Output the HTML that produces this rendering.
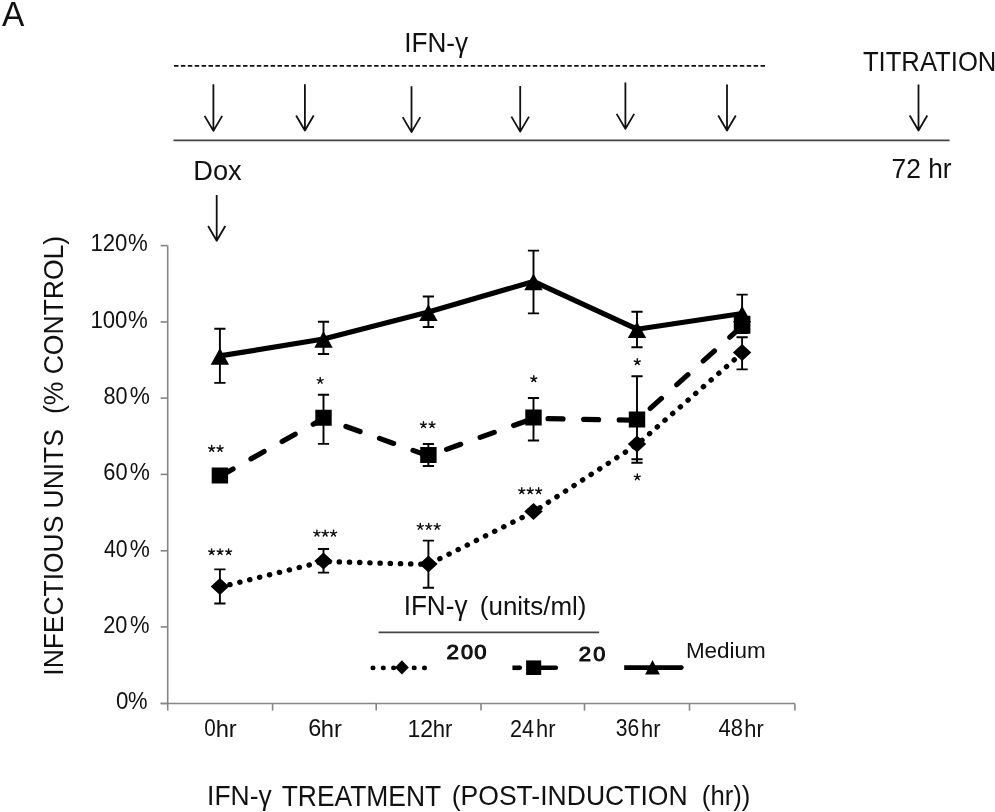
<!DOCTYPE html>
<html><head><meta charset="utf-8"><style>html,body{margin:0;padding:0;background:#fff;overflow:hidden}svg{display:block}text{font-family:"Liberation Sans",sans-serif;white-space:pre}</style></head>
<body>
<svg width="995" height="812" viewBox="0 0 995 812">
<rect width="995" height="812" fill="#fff"/>
<g stroke="#858585" stroke-width="1.6" fill="none">
<path d="M167.7,245.5 V710.6"/>
<path d="M160.6,245.6 H167.7"/>
<path d="M160.6,322.0 H167.7"/>
<path d="M160.6,398.1 H167.7"/>
<path d="M160.6,474.4 H167.7"/>
<path d="M160.6,550.8 H167.7"/>
<path d="M160.6,626.9 H167.7"/>
<path d="M160.6,703.5 H167.7"/>
<path d="M160.6,703.5 H795.0"/>
<path d="M272.6,703.5 V710.6"/>
<path d="M376.2,703.5 V710.6"/>
<path d="M481.0,703.5 V710.6"/>
<path d="M584.5,703.5 V710.6"/>
<path d="M689.5,703.5 V710.6"/>
<path d="M794.9,703.5 V710.6"/>
</g>
<path d="M219.9,328.7 V382.9 M214.3,328.7 H225.5 M214.3,382.9 H225.5 M323.5,321.8 V354.0 M317.9,321.8 H329.1 M317.9,354.0 H329.1 M428.4,296.5 V327.0 M422.8,296.5 H434.0 M422.8,327.0 H434.0 M533.5,250.6 V313.4 M527.9,250.6 H539.1 M527.9,313.4 H539.1 M637.0,311.8 V347.3 M631.4,311.8 H642.6 M631.4,347.3 H642.6 M742.1,294.6 V333.0 M736.5,294.6 H747.7 M736.5,333.0 H747.7 M323.5,394.8 V443.9 M317.9,394.8 H329.1 M317.9,443.9 H329.1 M428.4,444.0 V466.0 M422.8,444.0 H434.0 M422.8,466.0 H434.0 M533.5,398.0 V440.5 M527.9,398.0 H539.1 M527.9,440.5 H539.1 M637.0,376.3 V462.7 M631.4,376.3 H642.6 M631.4,462.7 H642.6 M219.9,569.4 V603.5 M214.3,569.4 H225.5 M214.3,603.5 H225.5 M323.5,549.0 V572.6 M317.9,549.0 H329.1 M317.9,572.6 H329.1 M428.4,540.6 V587.7 M422.8,540.6 H434.0 M422.8,587.7 H434.0 M637.0,426.0 V459.3 M631.4,426.0 H642.6 M631.4,459.3 H642.6 M742.1,337.2 V369.4 M736.5,337.2 H747.7 M736.5,369.4 H747.7" stroke="#000" stroke-width="1.9" fill="none"/>
<polyline points="219.9,587.1 323.5,561.5 428.4,564.4 533.5,511.9 637.0,444.6 742.1,353.0" fill="none" stroke="#000" stroke-width="5.3" stroke-linecap="round" stroke-linejoin="round" stroke-dasharray="0.3 9.9"/>
<polyline points="219.9,476.2 323.5,418.5 428.4,455.8 533.5,418.4 637.0,420.3 742.1,326.2" fill="none" stroke="#000" stroke-width="5.2" stroke-linecap="round" stroke-linejoin="round" stroke-dasharray="15.0 20.6"/>
<polyline points="219.9,355.9 323.5,339.0 428.4,312.1 533.5,281.4 637.0,329.2 742.1,313.5" fill="none" stroke="#000" stroke-width="5.2" stroke-linejoin="round"/>
<path d="M219.9,578.1 L229.1,586.6 L219.9,595.1 L210.7,586.6Z M323.5,552.5 L332.7,561.0 L323.5,569.5 L314.3,561.0Z M428.4,555.4 L437.6,563.9 L428.4,572.4 L419.2,563.9Z M533.5,502.9 L542.7,511.4 L533.5,519.9 L524.3,511.4Z M637.0,435.6 L646.2,444.1 L637.0,452.6 L627.8,444.1Z M742.1,344.0 L751.3,352.5 L742.1,361.0 L732.9,352.5Z M211.7,467.4 h16.4 v16.0 h-16.4Z M315.3,409.7 h16.4 v16.0 h-16.4Z M420.2,447.0 h16.4 v16.0 h-16.4Z M525.3,409.6 h16.4 v16.0 h-16.4Z M628.8,411.5 h16.4 v16.0 h-16.4Z M733.8,315.8 h16.6 v18.0 h-16.6Z M219.9,348.1 L229.1,364.7 L210.7,364.7Z M323.5,331.2 L332.7,347.8 L314.3,347.8Z M428.4,304.3 L437.6,320.9 L419.2,320.9Z M533.5,273.6 L542.7,290.2 L524.3,290.2Z M637.0,321.4 L646.2,338.0 L627.8,338.0Z M742.1,305.7 L751.3,322.3 L732.9,322.3Z" fill="#000"/>
<path d="M211.65,448.70 L211.65,445.53 M211.65,448.70 L214.67,447.72 M211.65,448.70 L213.52,451.28 M211.65,448.70 L209.78,451.28 M211.65,448.70 L208.62,447.72 M220.05,448.70 L220.05,445.53 M220.05,448.70 L223.08,447.72 M220.05,448.70 L221.92,451.28 M220.05,448.70 L218.18,451.28 M220.05,448.70 L217.03,447.72 M211.59,551.94 L211.59,548.93 M211.59,551.94 L214.46,551.01 M211.59,551.94 L213.36,554.38 M211.59,551.94 L209.82,554.38 M211.59,551.94 L208.72,551.01 M220.10,551.94 L220.10,548.93 M220.10,551.94 L222.97,551.01 M220.10,551.94 L221.87,554.38 M220.10,551.94 L218.33,554.38 M220.10,551.94 L217.23,551.01 M228.61,551.94 L228.61,548.93 M228.61,551.94 L231.48,551.01 M228.61,551.94 L230.38,554.38 M228.61,551.94 L226.84,554.38 M228.61,551.94 L225.74,551.01 M320.20,380.65 L320.20,377.53 M320.20,380.65 L323.17,379.68 M320.20,380.65 L322.03,383.18 M320.20,380.65 L318.36,383.18 M320.20,380.65 L317.22,379.68 M316.90,533.36 L316.90,530.12 M316.90,533.36 L319.98,532.36 M316.90,533.36 L318.80,535.98 M316.90,533.36 L315.00,535.98 M316.90,533.36 L313.82,532.36 M325.20,533.36 L325.20,530.12 M325.20,533.36 L328.28,532.36 M325.20,533.36 L327.10,535.98 M325.20,533.36 L323.30,535.98 M325.20,533.36 L322.12,532.36 M333.50,533.36 L333.50,530.12 M333.50,533.36 L336.58,532.36 M333.50,533.36 L335.40,535.98 M333.50,533.36 L331.60,535.98 M333.50,533.36 L330.42,532.36 M423.44,424.89 L423.44,421.83 M423.44,424.89 L426.36,423.94 M423.44,424.89 L425.25,427.38 M423.44,424.89 L421.64,427.38 M423.44,424.89 L420.52,423.94 M432.06,424.89 L432.06,421.83 M432.06,424.89 L434.98,423.94 M432.06,424.89 L433.86,427.38 M432.06,424.89 L430.25,427.38 M432.06,424.89 L429.14,423.94 M420.25,526.60 L420.25,523.43 M420.25,526.60 L423.27,525.62 M420.25,526.60 L422.12,529.18 M420.25,526.60 L418.38,529.18 M420.25,526.60 L417.22,525.62 M428.70,526.60 L428.70,523.43 M428.70,526.60 L431.72,525.62 M428.70,526.60 L430.57,529.18 M428.70,526.60 L426.83,529.18 M428.70,526.60 L425.68,525.62 M437.15,526.60 L437.15,523.43 M437.15,526.60 L440.18,525.62 M437.15,526.60 L439.02,529.18 M437.15,526.60 L435.28,529.18 M437.15,526.60 L434.13,525.62 M533.80,378.95 L533.80,375.83 M533.80,378.95 L536.77,377.98 M533.80,378.95 L535.63,381.48 M533.80,378.95 L531.96,381.48 M533.80,378.95 L530.82,377.98 M521.75,491.00 L521.75,487.83 M521.75,491.00 L524.77,490.02 M521.75,491.00 L523.62,493.58 M521.75,491.00 L519.88,493.58 M521.75,491.00 L518.72,490.02 M530.20,491.00 L530.20,487.83 M530.20,491.00 L533.22,490.02 M530.20,491.00 L532.07,493.58 M530.20,491.00 L528.33,493.58 M530.20,491.00 L527.18,490.02 M538.65,491.00 L538.65,487.83 M538.65,491.00 L541.68,490.02 M538.65,491.00 L540.52,493.58 M538.65,491.00 L536.78,493.58 M538.65,491.00 L535.63,490.02 M637.30,361.95 L637.30,358.83 M637.30,361.95 L640.27,360.98 M637.30,361.95 L639.13,364.48 M637.30,361.95 L635.46,364.48 M637.30,361.95 L634.32,360.98 M637.30,477.15 L637.30,474.03 M637.30,477.15 L640.27,476.18 M637.30,477.15 L639.13,479.68 M637.30,477.15 L635.46,479.68 M637.30,477.15 L634.32,476.18" stroke="#111" stroke-width="1.45" stroke-linecap="round" fill="none"/>
<path d="M378.6,632.3 H599.1" stroke="#444" stroke-width="1.7"/>
<path d="M372.9,667.9 H425" stroke="#000" stroke-width="4.9" stroke-linecap="round" stroke-dasharray="0.2 10.1"/>
<path d="M401.9,660.2 L408.8,667.4 L401.9,674.6 L395.0,667.4Z" fill="#000"/>
<path d="M512.4,667.8 H519.8" stroke="#000" stroke-width="4.6"/><circle cx="519.8" cy="667.8" r="2.3" fill="#000"/>
<path d="M533,667.8 H555.8" stroke="#000" stroke-width="4.6" stroke-linecap="round"/>
<path d="M526.1,660.4 h15.1 v14.6 h-15.1Z" fill="#000"/>
<path d="M624.2,667.6 H681.4" stroke="#000" stroke-width="4.6"/><circle cx="681.4" cy="667.6" r="2.3" fill="#000"/>
<path d="M652.5,660.0 L659.9,674.5 L645.1,674.5Z" fill="#000"/>
<path d="M174,65.9 H766.7" stroke="#111" stroke-width="1.8" stroke-dasharray="4.5 2.4"/>
<path d="M173.5,140.4 H949.6" stroke="#444" stroke-width="1.7"/>
<path d="M213.4,84.3 V130.9 M204.6,115.9 L213.4,130.9 L222.20000000000002,115.9 M304.9,84.3 V130.5 M296.09999999999997,115.5 L304.9,130.5 L313.7,115.5 M411.5,86.3 V132.1 M402.7,117.1 L411.5,132.1 L420.3,117.1 M520.2,85.9 V131.6 M511.40000000000003,116.6 L520.2,131.6 L529.0,116.6 M625.4,82.6 V128.9 M616.6,113.9 L625.4,128.9 L634.1999999999999,113.9 M727.0,84.6 V130.5 M718.2,115.5 L727.0,130.5 L735.8,115.5 M918.5,84.6 V130.5 M909.7,115.5 L918.5,130.5 L927.3,115.5 M216.7,194.9 V240.8 M208.1,226.0 L216.7,240.8 L225.29999999999998,226.0" stroke="#111" stroke-width="1.8" fill="none" stroke-linejoin="round"/>
<g font-family="Liberation Sans, sans-serif" font-size="100" fill="#111" style="will-change:transform">
<text transform="translate(2.00,25.60) scale(0.3348,0.3565)">A</text>
<text transform="translate(404.14,52.11) scale(0.2617,0.2756)">IFN-γ</text>
<text transform="translate(862.89,70.92) scale(0.2567,0.2775)">TITRATION</text>
<text transform="translate(193.22,179.92) scale(0.2726,0.2814)">Dox</text>
<text transform="translate(891.58,178.50) scale(0.2633,0.2808)">72 hr</text>
<text transform="translate(207.12,804.73) scale(0.2643,0.2844)">IFN-γ</text>
<text transform="translate(281.67,805.70) scale(0.2644,0.2986)">TREATMENT</text>
<text transform="translate(451.71,804.96) scale(0.2655,0.2734)">(POST-INDUCTION</text>
<text transform="translate(701.86,804.96) scale(0.2571,0.2734)">(hr))</text>
<text transform="translate(63.02,675.68) rotate(-90) scale(0.2643,0.2817)">INFECTIOUS UNITS</text>
<text transform="translate(62.88,414.09) rotate(-90) scale(0.2653,0.2723)">(% CONTROL)</text>
<text transform="translate(403.65,614.55) scale(0.2613,0.2689)">IFN-γ</text>
<text transform="translate(479.84,615.10) scale(0.2596,0.2617)">(units/ml)</text>
<text transform="translate(685.90,657.87) scale(0.2246,0.2270)">Medium</text>
<text transform="translate(90.42,251.46) scale(0.2219,0.2366)">120</text>
<text transform="translate(127.91,251.46) scale(0.2222,0.2400)">%</text>
<text transform="translate(90.42,327.86) scale(0.2219,0.2366)">100</text>
<text transform="translate(127.91,327.86) scale(0.2222,0.2400)">%</text>
<text transform="translate(103.53,404.06) scale(0.2165,0.2366)">80</text>
<text transform="translate(129.70,404.06) scale(0.2259,0.2400)">%</text>
<text transform="translate(103.31,480.16) scale(0.2186,0.2366)">60</text>
<text transform="translate(129.70,480.16) scale(0.2259,0.2400)">%</text>
<text transform="translate(103.98,556.66) scale(0.2124,0.2366)">40</text>
<text transform="translate(129.70,556.66) scale(0.2259,0.2400)">%</text>
<text transform="translate(103.21,632.86) scale(0.2176,0.2366)">20</text>
<text transform="translate(129.92,632.86) scale(0.2198,0.2400)">%</text>
<text transform="translate(116.11,709.26) scale(0.2229,0.2366)">0</text>
<text transform="translate(128.12,709.26) scale(0.2198,0.2400)">%</text>
<text transform="translate(204.18,736.26) scale(0.2063,0.2408)">0</text>
<text transform="translate(215.64,736.50) scale(0.2375,0.2329)">hr</text>
<text transform="translate(308.13,736.26) scale(0.2348,0.2408)">6</text>
<text transform="translate(320.84,736.50) scale(0.2375,0.2329)">hr</text>
<text transform="translate(407.46,736.50) scale(0.2306,0.2443)">12</text>
<text transform="translate(432.75,736.50) scale(0.2212,0.2329)">hr</text>
<text transform="translate(509.92,736.50) scale(0.2165,0.2443)">24</text>
<text transform="translate(536.07,736.50) scale(0.2188,0.2329)">hr</text>
<text transform="translate(615.76,736.26) scale(0.2107,0.2408)">36</text>
<text transform="translate(641.07,736.50) scale(0.2188,0.2329)">hr</text>
<text transform="translate(718.46,736.26) scale(0.2190,0.2408)">48</text>
<text transform="translate(744.27,736.50) scale(0.2188,0.2329)">hr</text>
<text transform="translate(446.53,659.49) scale(0.2240,0.2041)" stroke="#111" stroke-width="5" stroke-linejoin="round">2</text>
<text transform="translate(460.88,659.30) scale(0.2170,0.2013)" stroke="#111" stroke-width="5" stroke-linejoin="round">0</text>
<text transform="translate(474.18,659.30) scale(0.2208,0.2013)" stroke="#111" stroke-width="5" stroke-linejoin="round">0</text>
<text transform="translate(578.83,661.48) scale(0.2220,0.2108)" stroke="#111" stroke-width="5" stroke-linejoin="round">2</text>
<text transform="translate(593.18,661.28) scale(0.2170,0.2080)" stroke="#111" stroke-width="5" stroke-linejoin="round">0</text>
</g>
</svg>
</body></html>
